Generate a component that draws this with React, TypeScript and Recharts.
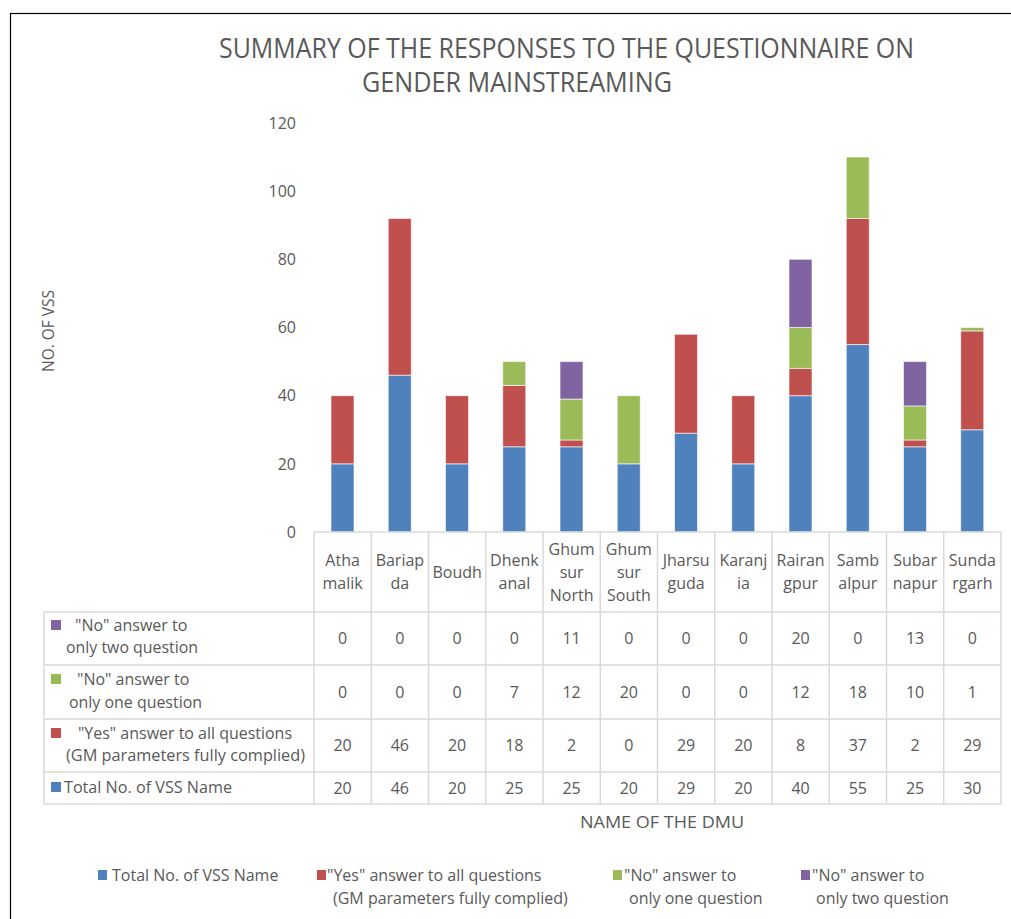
import React from 'react';
import { BarChart, Bar, XAxis, YAxis } from 'recharts';

// DMU names and how they wrap inside the table header
const categories = [
  'Athamalik', 'Bariapda', 'Boudh', 'Dhenkanal', 'Ghumsur North', 'Ghumsur South',
  'Jharsuguda', 'Karanjia', 'Rairangpur', 'Sambalpur', 'Subarnapur', 'Sundargarh',
];
const categoryLines = [
  ['Atha', 'malik'], ['Bariap', 'da'], ['Boudh'], ['Dhenk', 'anal'], ['Ghum', 'sur', 'North'],
  ['Ghum', 'sur', 'South'], ['Jharsu', 'guda'], ['Karanj', 'ia'], ['Rairan', 'gpur'],
  ['Samb', 'alpur'], ['Subar', 'napur'], ['Sunda', 'rgarh'],
];

const totalVss = [20, 46, 20, 25, 25, 20, 29, 20, 40, 55, 25, 30];
const yesAll = [20, 46, 20, 18, 2, 0, 29, 20, 8, 37, 2, 29];
const noOne = [0, 0, 0, 7, 12, 20, 0, 0, 12, 18, 10, 1];
const noTwo = [0, 0, 0, 0, 11, 0, 0, 0, 20, 0, 13, 0];

const yTicks = [0, 20, 40, 60, 80, 100, 120];

const series = [
  { key: 'total', color: '#4F81BD', values: totalVss, label: ['Total No. of VSS Name'] },
  { key: 'yes', color: '#C0504D', values: yesAll, label: ['"Yes" answer to all questions', '(GM parameters fully complied)'] },
  { key: 'noOne', color: '#9BBB59', values: noOne, label: ['"No" answer to', 'only one  question'] },
  { key: 'noTwo', color: '#8064A2', values: noTwo, label: ['"No" answer to', 'only two question'] },
];

const data = categories.map((name, i) => ({
  name,
  total: totalVss[i],
  yes: yesAll[i],
  noOne: noOne[i],
  noTwo: noTwo[i],
}));

const W = 1011;
const H = 919;
const PLOT_L = 314;
const PLOT_R = 1001;
const AXIS_Y = 532;
const TEXT = '#595959';
const GRID = '#d9d9d9';
const FONT = '"Open Sans", "DejaVu Sans", sans-serif';
const FS = 16;

// table rows, top to bottom
const tableRows = [
  { s: series[3], top: 612, bottom: 665, lines: [{ t: '"No" answer to', x: 75, y: 625 }, { t: 'only two question', x: 66, y: 647, w: 132 }] },
  { s: series[2], top: 665, bottom: 719, lines: [{ t: '"No" answer to', x: 77, y: 679 }, { t: 'only one  question', x: 69, y: 702, w: 133 }] },
  { s: series[1], top: 719, bottom: 772, lines: [{ t: '"Yes" answer to all questions', x: 78, y: 733, w: 214 }, { t: '(GM parameters fully complied)', x: 66, y: 755, w: 239 }] },
  { s: series[0], top: 772, bottom: 804, lines: [{ t: 'Total No. of VSS Name', x: 64, y: 787, w: 168 }] },
];

const ColumnTick = (props: any) => {
  const { x, payload } = props;
  const idx = categories.indexOf(payload.value);
  const lines = categoryLines[idx] || [];
  const lh = 23;
  const mid = (AXIS_Y + 612) / 2;
  const start = mid - ((lines.length - 1) * lh) / 2;
  return (
    <g>
      {lines.map((l, k) => (
        <text key={k} x={x} y={start + k * lh} dy="0.35em" textAnchor="middle" fill={TEXT} fontSize={FS} fontFamily={FONT}>
          {l}
        </text>
      ))}
      {tableRows.map((r, k) => (
        <text key={'v' + k} x={x} y={(r.top + r.bottom) / 2} dy="0.35em" textAnchor="middle" fill={TEXT} fontSize={FS} fontFamily={FONT}>
          {r.s.values[idx]}
        </text>
      ))}
    </g>
  );
};

const colW = (PLOT_R - PLOT_L) / categories.length;

const App = () => {
  return (
    <div style={{ position: 'absolute', left: 0, top: 0, width: W, height: H, background: '#fff', fontFamily: FONT }}>
      <BarChart
        width={W}
        height={H}
        data={data}
        margin={{ top: 123, right: W - PLOT_R, bottom: H - AXIS_Y - 80, left: PLOT_L - 60 }}
        barSize={23}
      >
        <XAxis
          dataKey="name"
          height={80}
          interval={0}
          tickLine={false}
          tickSize={0}
          tickMargin={0}
          axisLine={{ stroke: GRID, strokeWidth: 1.5 }}
          tick={<ColumnTick />}
        />
        <YAxis
          width={60}
          domain={[0, 120]}
          ticks={yTicks}
          axisLine={false}
          tickLine={false}
          tickSize={0}
          tickMargin={18}
          tick={{ fill: TEXT, fontSize: FS, fontFamily: FONT }}
        />
        {series.map((s) => (
          <Bar key={s.key} dataKey={s.key} stackId="a" fill={s.color} stroke="#ffffff" strokeWidth={0.6} isAnimationActive={false} />
        ))}
      </BarChart>

      <svg width={W} height={H} style={{ position: 'absolute', left: 0, top: 0, pointerEvents: 'none' }}>
        <rect x={10.5} y={13.5} width={1100} height={1000} fill="none" stroke="#000" strokeWidth={1.2} />

        <text x={219} y={58} fill={TEXT} fontSize={27} fontFamily={FONT} textLength={695} lengthAdjust="spacingAndGlyphs">
          SUMMARY OF THE RESPONSES TO THE QUESTIONNAIRE ON
        </text>
        <text x={362} y={92} fill={TEXT} fontSize={27} fontFamily={FONT} textLength={310} lengthAdjust="spacingAndGlyphs">
          GENDER MAINSTREAMING
        </text>

        <text x={48} y={331} dy="0.35em" transform="rotate(-90 48 331)" textAnchor="middle" fill={TEXT} fontSize={FS} fontFamily={FONT} textLength={82} lengthAdjust="spacingAndGlyphs">
          NO. OF VSS
        </text>

        {/* table grid */}
        {[612, 665, 719, 772, 804].map((yy) => (
          <line key={yy} x1={44} x2={PLOT_R} y1={yy} y2={yy} stroke={GRID} strokeWidth={1.5} />
        ))}
        <line x1={44} x2={44} y1={612} y2={804} stroke={GRID} strokeWidth={1.5} />
        {categories.map((c, i) => (
          <line key={c} x1={PLOT_L + i * colW} x2={PLOT_L + i * colW} y1={AXIS_Y} y2={804} stroke={GRID} strokeWidth={1.5} />
        ))}
        <line x1={PLOT_R} x2={PLOT_R} y1={AXIS_Y} y2={804} stroke={GRID} strokeWidth={1.5} />

        {tableRows.map((r, k) => (
          <g key={k}>
            <rect x={51} y={r.lines[0].y - 5} width={10} height={10} fill={r.s.color} />
            {r.lines.map((l: any, j) => (
              <text key={j} x={l.x} y={l.y} dy="0.35em" fill={TEXT} fontSize={FS} fontFamily={FONT} textLength={l.w} lengthAdjust={l.w ? 'spacingAndGlyphs' : undefined}>
                {l.t}
              </text>
            ))}
          </g>
        ))}

        <text x={662} y={822} dy="0.35em" textAnchor="middle" fill={TEXT} fontSize={FS} fontFamily={FONT} textLength={164} lengthAdjust="spacingAndGlyphs">
          NAME OF THE DMU
        </text>

        {/* legend */}
        {series.map((s, i) => {
          const sq = [98, 317, 613, 801][i];
          const tx = [112, 327, 624, 812][i];
          const tx2 = [112, 333, 629, 816][i];
          return (
            <g key={s.key}>
              <rect x={sq} y={870} width={9} height={10} fill={s.color} />
              {s.label.map((l, j) => (
                <text key={j} x={j === 0 ? tx : tx2} y={875 + j * 23} dy="0.35em" fill={TEXT} fontSize={FS} fontFamily={FONT}>
                  {l}
                </text>
              ))}
            </g>
          );
        })}
      </svg>
    </div>
  );
};

export default App;
